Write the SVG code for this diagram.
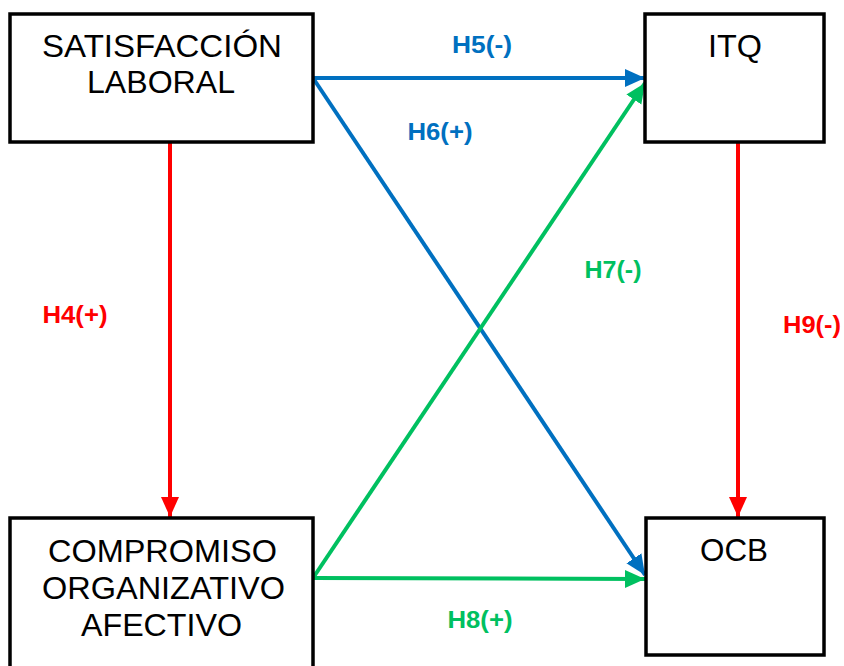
<svg xmlns="http://www.w3.org/2000/svg" width="844" height="666" viewBox="0 0 844 666">
  <style>
    .box { fill: #ffffff; stroke: #000000; stroke-width: 3.5; }
    .node-text { font-family: "Liberation Sans", Arial, sans-serif; font-size: 31px; fill: #000000; text-anchor: middle; }
    .lbl { font-family: "Liberation Sans", Arial, sans-serif; font-size: 23px; font-weight: bold; text-anchor: middle; }
    .edge { fill: none; stroke-width: 4; }
    .red { stroke: #ff0000; }
    .blue { stroke: #0070c0; }
    .green { stroke: #00c060; }
  </style>
  <defs>
    <marker id="ah-red" markerUnits="userSpaceOnUse" markerWidth="20" markerHeight="20" viewBox="0 0 20 20" refX="20" refY="10" orient="auto">
      <path d="M0,1 L20,10 L0,19 Z" fill="#ff0000"/>
    </marker>
    <marker id="ah-blue" markerUnits="userSpaceOnUse" markerWidth="20" markerHeight="20" viewBox="0 0 20 20" refX="20" refY="10" orient="auto">
      <path d="M0,1 L20,10 L0,19 Z" fill="#0070c0"/>
    </marker>
    <marker id="ah-green" markerUnits="userSpaceOnUse" markerWidth="20" markerHeight="20" viewBox="0 0 20 20" refX="20" refY="10" orient="auto">
      <path d="M0,1 L20,10 L0,19 Z" fill="#00c060"/>
    </marker>
  </defs>

  <rect width="844" height="666" fill="#ffffff"/>

  <!-- Connectors -->
  <g id="connectors">
    <line class="edge red" x1="170" y1="143" x2="170" y2="517" marker-end="url(#ah-red)"/>
    <line class="edge red" x1="738" y1="143" x2="738" y2="517" marker-end="url(#ah-red)"/>
    <line class="edge blue" x1="313" y1="78" x2="645" y2="78" marker-end="url(#ah-blue)"/>
    <line class="edge blue" x1="313" y1="78" x2="645" y2="575" marker-end="url(#ah-blue)"/>
    <line class="edge green" x1="313" y1="578" x2="645" y2="83" marker-end="url(#ah-green)"/>
    <line class="edge green" x1="313" y1="578" x2="645" y2="579" marker-end="url(#ah-green)"/>

    <text class="lbl" x="482" y="53" fill="#0070c0" textLength="60" lengthAdjust="spacingAndGlyphs">H5(-)</text>
    <text class="lbl" x="440" y="140" fill="#0070c0" textLength="65" lengthAdjust="spacingAndGlyphs">H6(+)</text>
    <text class="lbl" x="613" y="278" fill="#00c060" textLength="57" lengthAdjust="spacingAndGlyphs">H7(-)</text>
    <text class="lbl" x="75" y="323" fill="#ff0000" textLength="65" lengthAdjust="spacingAndGlyphs">H4(+)</text>
    <text class="lbl" x="812" y="333" fill="#ff0000" textLength="58" lengthAdjust="spacingAndGlyphs">H9(-)</text>
    <text class="lbl" x="480" y="628" fill="#00c060" textLength="65" lengthAdjust="spacingAndGlyphs">H8(+)</text>
  </g>

  <!-- Nodes -->
  <g id="satisfaccion-laboral">
    <rect class="box" x="10" y="14" width="303" height="128"/>
    <text class="node-text" x="162" y="57" textLength="240" lengthAdjust="spacingAndGlyphs">SATISFACCIÓN</text>
    <text class="node-text" x="161" y="93" textLength="148" lengthAdjust="spacingAndGlyphs">LABORAL</text>
  </g>

  <g id="itq">
    <rect class="box" x="645" y="14" width="179" height="128"/>
    <text class="node-text" x="735" y="57" textLength="54" lengthAdjust="spacingAndGlyphs">ITQ</text>
  </g>

  <g id="compromiso-organizativo-afectivo">
    <rect class="box" x="10" y="518" width="303" height="170"/>
    <text class="node-text" x="162.5" y="562" textLength="229" lengthAdjust="spacingAndGlyphs">COMPROMISO</text>
    <text class="node-text" x="163.5" y="599" textLength="243" lengthAdjust="spacingAndGlyphs">ORGANIZATIVO</text>
    <text class="node-text" x="161.5" y="636" textLength="161" lengthAdjust="spacingAndGlyphs">AFECTIVO</text>
  </g>

  <g id="ocb">
    <rect class="box" x="646" y="518" width="178" height="137"/>
    <text class="node-text" x="734" y="561" textLength="68" lengthAdjust="spacingAndGlyphs">OCB</text>
  </g>
</svg>
